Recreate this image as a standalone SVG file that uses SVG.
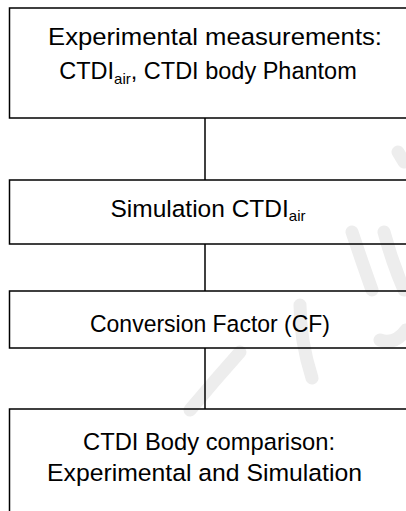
<svg xmlns="http://www.w3.org/2000/svg" width="406" height="511" viewBox="0 0 406 511">
<style>
.box{fill:none;stroke:#000;stroke-width:1.5}
.conn{stroke:#000;stroke-width:1.5;fill:none}
.t{font-family:"Liberation Sans",Arial,sans-serif;font-size:24.5px;fill:#000;text-anchor:middle}
.sub{font-size:15px}
.wm{fill:none;stroke:#ededed;stroke-width:13;stroke-linecap:round;stroke-linejoin:round}
</style>
<rect width="406" height="511" fill="#fff"/>
<g id="watermark">
<path class="wm" d="M398,152 L404,162"/>
<path class="wm" d="M352,232 Q362,262 372,290 M384,232 Q392,262 404,290"/>
<path class="wm" d="M300,305 Q300,340 312,378"/>
<path class="wm" d="M240,352 Q215,380 190,410"/>
<path class="wm" d="M380,340 Q395,345 406,330"/>
</g>
<g id="connectors">
<line class="conn" x1="205" y1="118" x2="205" y2="180"/>
<line class="conn" x1="205" y1="244" x2="205" y2="291"/>
<line class="conn" x1="205" y1="348" x2="205" y2="409"/>
</g>
<g id="node1">
<rect class="box" x="9.5" y="8" width="420" height="110"/>
<text class="t" x="215" y="45" textLength="334" lengthAdjust="spacingAndGlyphs">Experimental measurements:</text>
<text class="t" x="208" y="79" style="font-size:23.5px">CTDI<tspan class="sub" dy="5">air</tspan><tspan dy="-5">, CTDI body Phantom</tspan></text>
</g>
<g id="node2">
<rect class="box" x="9.5" y="180" width="420" height="64"/>
<text class="t" x="208" y="217">Simulation CTDI<tspan class="sub" dy="4">air</tspan></text>
</g>
<g id="node3">
<rect class="box" x="9.5" y="291" width="420" height="57"/>
<text class="t" x="210" y="332" textLength="240" lengthAdjust="spacingAndGlyphs">Conversion Factor (CF)</text>
</g>
<g id="node4">
<rect class="box" x="9.5" y="409" width="420" height="120"/>
<text class="t" x="209" y="450" textLength="252" lengthAdjust="spacingAndGlyphs">CTDI Body comparison:</text>
<text class="t" x="204.5" y="481" textLength="315" lengthAdjust="spacingAndGlyphs">Experimental and Simulation</text>
</g>
</svg>
